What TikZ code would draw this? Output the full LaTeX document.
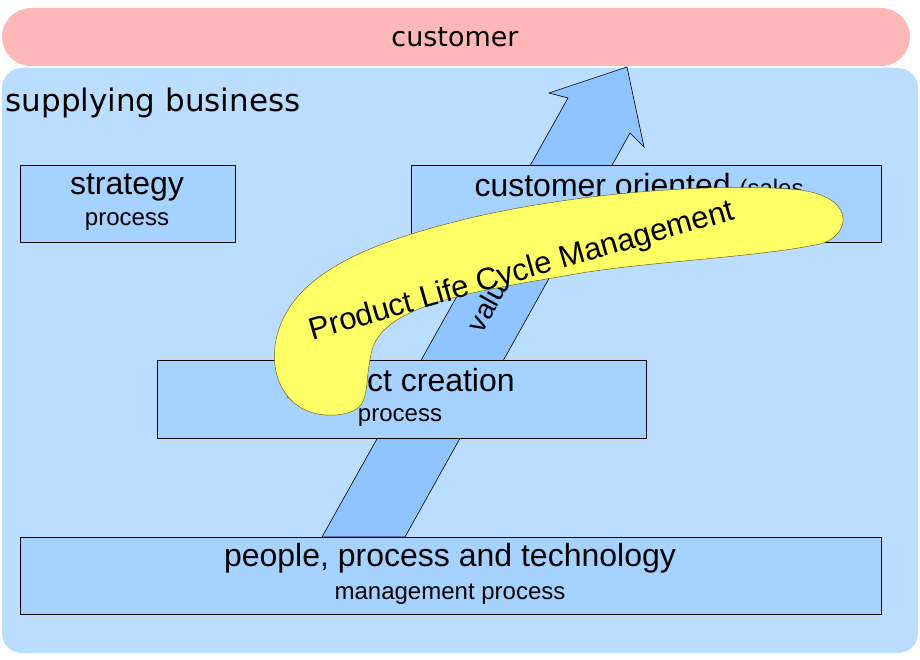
\documentclass[tikz,border=0pt]{standalone}
\usepackage{fontspec}
\setmainfont{Liberation Sans}
\newfontfamily\djv{DejaVu Sans}
\usepackage{tikz}
\definecolor{custpink}{HTML}{FFB8B8}
\definecolor{bizblue}{HTML}{BBDDFF}
\definecolor{boxblue}{HTML}{A6D2FF}
\definecolor{valblue}{HTML}{8EC4FF}
\definecolor{plmyellow}{HTML}{FFFF66}
\tikzset{
    proc/.style={draw=black, line width=0.8pt, fill=boxblue},
    head/.style={font=\fontsize{32}{34}\selectfont},
    sub/.style={font=\fontsize{24}{26}\selectfont}
}
\begin{document}
\begin{tikzpicture}[x=1pt,y=-1pt]
\useasboundingbox (0,0) rectangle (920,660);

% outer areas
\fill[custpink,rounded corners=29pt] (2,8) rectangle (910,66);
\node[font=\djv\fontsize{27}{29}\selectfont] (cust) at (455,37) {customer};
\fill[bizblue,rounded corners=20pt] (2,68) rectangle (918,653);
\node[anchor=west,font=\djv\fontsize{31}{33}\selectfont] (biz) at (2,103) {supplying business};

% value arrow
\draw[fill=valblue,line width=0.6pt] (322,537) -- (568,98) -- (549,93) -- (627,67)
    -- (644,147) -- (630,133) -- (405,537) -- cycle;
\node[rotate=61,font=\fontsize{28}{30}\selectfont] (val) at (490,300) {value};

% processes
\draw[proc] (20,165) rectangle (235,242);
\node[head] (strat) at (127,187) {strategy};
\node[sub] (stratp) at (127,222) {process};

\draw[proc] (411,165) rectangle (881,242);
\node[head,anchor=base west] (custo) at (471,197) {customer oriented \fontsize{24}{26}\selectfont(sales};

\draw[proc] (157,360) rectangle (646,438);
\node[head] (pc) at (400,383) {product creation};
\node[sub] (pcp) at (400,418) {process};

\draw[proc] (20,537) rectangle (881,614);
\node[head] (ppt) at (450,558) {people, process and technology};
\node[sub] (pptp) at (450,594) {management process};

% PLM blob
\draw[fill=plmyellow,draw=olive!70!black,line width=0.5pt]
    (335,415) .. controls (290,418) and (268,380) .. (276,340)
    .. controls (290,270) and (380,240) .. (470,218)
    .. controls (590,190) and (730,183) .. (800,190)
    .. controls (860,198) and (850,240) .. (815,245)
    .. controls (750,258) and (640,262) .. (570,275)
    .. controls (470,292) and (385,305) .. (372,350)
    .. controls (362,390) and (375,412) .. (335,415) -- cycle;
\node[rotate=16,font=\fontsize{31}{33}\selectfont] (plm) at (522,272) {Product Life Cycle Management};
\end{tikzpicture}
\end{document}
